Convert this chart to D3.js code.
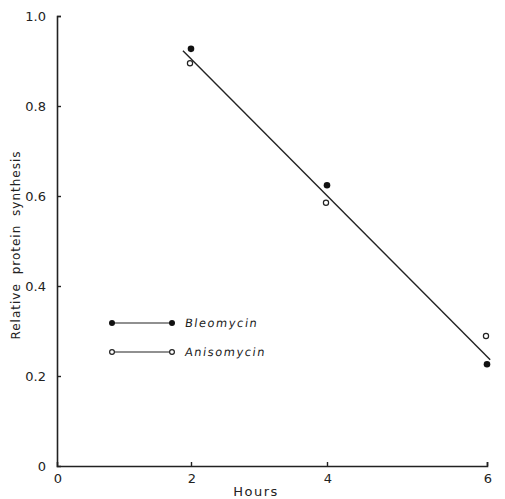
<!DOCTYPE html>
<html>
<head>
<meta charset="utf-8">
<script src="https://cdn.jsdelivr.net/npm/d3@7"></script>
<style>
  body { margin: 0; background: #fff; }
  text { font-family: "DejaVu Sans", sans-serif; fill: #222; }
</style>
</head>
<body>
<div id="chart"></div>
<script>
// data
var hours = [2, 4, 6];
var bleomycin = [0.927, 0.624, 0.226];
var anisomycin = [0.895, 0.585, 0.289];
var fitX = [1.88, 6.04];
var fitY = [0.923, 0.236];
var xTicks = [0, 2, 4, 6];
var yTicks = [0, 0.2, 0.4, 0.6, 0.8, 1.0];
var yTickLabels = ["0", "0.2", "0.4", "0.6", "0.8", "1.0"];

var W = 505, H = 499;
var svg = d3.select("#chart").append("svg").attr("width", W).attr("height", H);

// the scanned axis is a little uneven, so x uses a piecewise scale
var x = d3.scaleLinear().domain(xTicks).range([57, 191, 327, 487]);
var y = d3.scaleLinear().domain([0, 1]).range([466, 16]);

var ink = "#222";

// axes
var yAxis = svg.append("g").attr("transform", "translate(" + x(0) + ",0)")
  .call(d3.axisRight(y).tickValues(yTicks).tickSize(4).tickFormat(""));
var xAxis = svg.append("g").attr("transform", "translate(0," + y(0) + ")")
  .call(d3.axisTop(x).tickValues(xTicks).tickSize(4).tickFormat(""));
[xAxis, yAxis].forEach(function (a) {
  a.select(".domain").attr("stroke", ink).attr("stroke-width", 1.6);
  a.selectAll(".tick line").attr("stroke", ink).attr("stroke-width", 1.4);
});
xAxis.selectAll(".tick").filter(function (d) { return d === 0; }).remove();
yAxis.selectAll(".tick").filter(function (d) { return d === 0; }).remove();

// tick labels
svg.selectAll(".ylab").data(yTicks).enter().append("text")
  .attr("x", 46).attr("y", function (d) { return y(d) + 5; })
  .attr("text-anchor", "end").style("font-size", "13px")
  .text(function (d, i) { return yTickLabels[i]; });

svg.selectAll(".xlab").data(xTicks).enter().append("text")
  .attr("x", function (d) { return x(d) + 1; }).attr("y", 483)
  .attr("text-anchor", "middle").style("font-size", "13px")
  .text(function (d) { return d; });

// axis titles
svg.append("text").attr("x", 256).attr("y", 496)
  .attr("text-anchor", "middle").style("font-size", "13px")
  .style("letter-spacing", "1.5px").text("Hours");

svg.append("text")
  .attr("transform", "translate(20,245) rotate(-90)")
  .attr("text-anchor", "middle").style("font-size", "12px")
  .style("letter-spacing", "1px").style("word-spacing", "4px")
  .text("Relative protein synthesis");

// fitted line
svg.append("line")
  .attr("x1", x(fitX[0])).attr("y1", y(fitY[0]))
  .attr("x2", x(fitX[1])).attr("y2", y(fitY[1]))
  .attr("stroke", ink).attr("stroke-width", 1.4);

// points
svg.selectAll(".bleo").data(hours).enter().append("circle")
  .attr("cx", function (d) { return x(d); })
  .attr("cy", function (d, i) { return y(bleomycin[i]); })
  .attr("r", 3.3).attr("fill", "#111");

svg.selectAll(".aniso").data(hours).enter().append("circle")
  .attr("cx", function (d) { return x(d) - 1; })
  .attr("cy", function (d, i) { return y(anisomycin[i]); })
  .attr("r", 2.6).attr("fill", "#fff").attr("stroke", "#222").attr("stroke-width", 1.2);

// legend
var legend = [
  { name: "Bleomycin", filled: true, yy: 323 },
  { name: "Anisomycin", filled: false, yy: 352 }
];
var lg = svg.selectAll(".leg").data(legend).enter().append("g");
lg.append("line").attr("x1", 112).attr("x2", 172)
  .attr("y1", function (d) { return d.yy; }).attr("y2", function (d) { return d.yy; })
  .attr("stroke", ink).attr("stroke-width", 1.2);
[112, 172].forEach(function (cx) {
  lg.append("circle").attr("cx", cx).attr("cy", function (d) { return d.yy; })
    .attr("r", function (d) { return d.filled ? 3 : 2.4; })
    .attr("fill", function (d) { return d.filled ? "#111" : "#fff"; })
    .attr("stroke", "#222").attr("stroke-width", function (d) { return d.filled ? 0 : 1.2; });
});
lg.append("text").attr("x", 185).attr("y", function (d) { return d.yy + 4; })
  .attr("transform", function (d) { return "skewX(-8) translate(" + (d.yy * 0.1405) + ",0)"; })
  .style("font-size", "11.5px").style("letter-spacing", "1.5px")
  .text(function (d) { return d.name; });
</script>
</body>
</html>
